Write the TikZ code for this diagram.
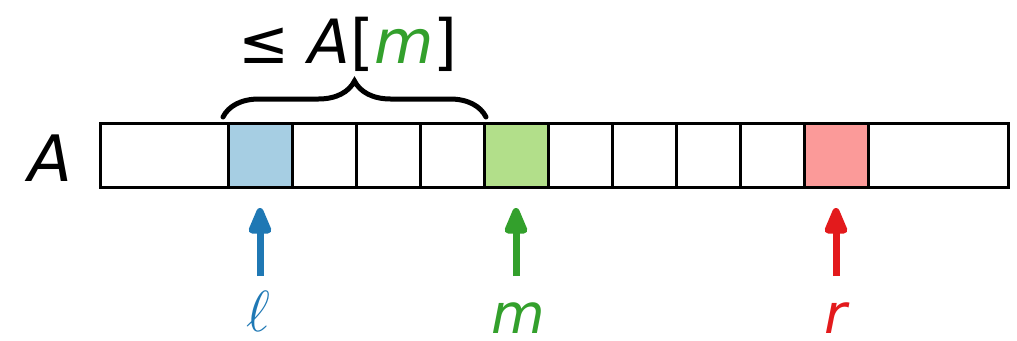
\RequirePackage{fix-cm}
\documentclass[tikz,border=0pt]{standalone}
\usepackage{fontspec}
\setmainfont{DejaVu Sans}
\usetikzlibrary{arrows.meta,decorations.pathreplacing}
\definecolor{cblue}{HTML}{A6CEE3}
\definecolor{cgreen}{HTML}{B2DF8A}
\definecolor{cred}{HTML}{FB9A99}
\definecolor{dblue}{HTML}{1F78B4}
\definecolor{dgreen}{HTML}{33A02C}
\definecolor{dred}{HTML}{E31A1C}
\begin{document}
\begin{tikzpicture}[x=1pt,y=-1pt,
  cell/.style={draw=black, line width=3pt, minimum height=64pt, inner sep=0pt, outer sep=0pt},
  bigtext/.style={font=\fontsize{64}{70}\selectfont, inner sep=0pt, anchor=base},
  toptext/.style={font=\fontsize{61}{66}\selectfont, inner sep=0pt, anchor=base},
  lbltext/.style={font=\fontsize{55}{60}\selectfont\itshape, inner sep=0pt, anchor=base},
  ptr/.style={line width=7pt, -{Triangle[length=32pt,width=24pt,round]}},
]
\useasboundingbox (0,0) rectangle (1017,340);
% cells
\node[cell, minimum width=128pt] (c0) at (164,155) {};
\node[cell, minimum width=64pt, fill=cblue] (c1) at (260,155) {};
\node[cell, minimum width=64pt] (c2) at (324,155) {};
\node[cell, minimum width=64pt] (c3) at (388,155) {};
\node[cell, minimum width=64pt] (c4) at (452,155) {};
\node[cell, minimum width=64pt, fill=cgreen] (c5) at (516,155) {};
\node[cell, minimum width=64pt] (c6) at (580,155) {};
\node[cell, minimum width=64pt] (c7) at (644,155) {};
\node[cell, minimum width=64pt] (c8) at (708,155) {};
\node[cell, minimum width=64pt] (c9) at (772,155) {};
\node[cell, minimum width=64pt, fill=cred] (c10) at (836,155) {};
\node[cell, minimum width=140pt] (c11) at (938,155) {};
% array name
\node[bigtext] (aname) at (50,181) {\itshape A};
% brace
\coordinate (bl) at (223,117);
\coordinate (br) at (486,117);
\draw[decorate, decoration={brace, amplitude=36pt}, line width=5pt, line cap=round] (bl) -- (br);
\node[toptext] (blabel) at (348,63) {≤ \textit{A}[\textit{\textcolor{dgreen}{m}}]};
% pointers
\coordinate (lt) at (260,208);
\coordinate (lb) at (260,276);
\coordinate (mt) at (516,208);
\coordinate (mb) at (516,276);
\coordinate (rt) at (836,208);
\coordinate (rb) at (836,276);
\draw[ptr, dblue] (lb) -- (lt);
\draw[ptr, dgreen] (mb) -- (mt);
\draw[ptr, dred] (rb) -- (rt);
\node[lbltext, text=dblue] (ell) at (258,331) {\fontsize{58}{62}\selectfont$\ell$};
\node[lbltext, text=dgreen] (mm) at (518,333) {m};
\node[lbltext, text=dred] (rr) at (836,333) {r};
\end{tikzpicture}
\end{document}
